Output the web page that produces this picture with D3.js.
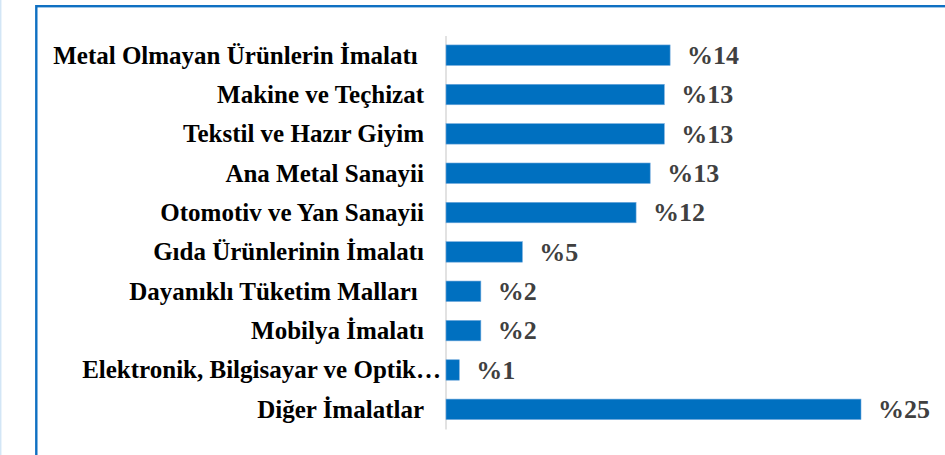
<html>
<head>
<meta charset="utf-8">
<script src="https://d3js.org/d3.v7.min.js"></script>
<style>
body { margin:0; background:#fff; }
text { white-space: pre; }
</style>
</head>
<body>
<svg width="945" height="455"></svg>
<script>
// categories top to bottom, trailing spaces kept as in the original
var categories = [
	"Metal Olmayan Ürünlerin İmalatı ",
	"Makine ve Teçhizat",
	"Tekstil ve Hazır Giyim",
	"Ana Metal Sanayii",
	"Otomotiv ve Yan Sanayii",
	"Gıda Ürünlerinin İmalatı",
	"Dayanıklı Tüketim Malları ",
	"Mobilya İmalatı",
	"Elektronik, Bilgisayar ve Optik…",
	"Diğer İmalatlar"
];
var values = [13.5, 13.15, 13.15, 12.3, 11.45, 4.6, 2.1, 2.1, 0.8, 25];
var valueLabels = ["%14", "%13", "%13", "%13", "%12", "%5", "%2", "%2", "%1", "%25"];

var data = categories.map((c, i) => ({name: c, value: values[i], label: valueLabels[i]}));

var width = 945, height = 455;
var axisX = 445.5;
var fontFam = "'Liberation Serif', 'Times New Roman', serif";

var svg = d3.select("svg");

// outer light strip and blue frame
svg.append("line")
	.attr("x1", 0.7).attr("x2", 0.7)
	.attr("y1", 0).attr("y2", height)
	.attr("stroke", "#d3e6f6")
	.attr("stroke-width", 1.5);
svg.append("rect")
	.attr("x", 36.3).attr("y", 6.2)
	.attr("width", 930).attr("height", 470)
	.attr("fill", "#fff")
	.attr("stroke", "#0f70c2")
	.attr("stroke-width", 2.4);

var x = d3.scaleLinear()
	.domain([0, 25])
	.range([446, 861]);

var y = d3.scaleBand()
	.domain(categories)
	.range([35.5, 429])
	.paddingInner(0.48)
	.paddingOuter(0.24);

// category axis
var yAxis = svg.append("g")
	.attr("transform", "translate(" + axisX + ",0)")
	.call(d3.axisLeft(y).tickSize(0).tickSizeOuter(0).tickPadding(21.5));
yAxis.select(".domain")
	.attr("stroke", "#d9d9d9")
	.attr("stroke-width", 1.5);
yAxis.selectAll("text")
	.attr("font-family", fontFam)
	.attr("font-weight", "bold")
	.attr("font-size", "25px")
	.attr("fill", "#000")
	.attr("dy", "0.34em")
	.attr("dx", d => d.endsWith("…") ? 17 : 0);

// bars
svg.selectAll(".bar")
	.data(data)
	.enter()
	.append("rect")
	.attr("class", "bar")
	.attr("x", x(0))
	.attr("y", d => y(d.name))
	.attr("width", d => x(d.value) - x(0))
	.attr("height", y.bandwidth())
	.attr("fill", "#0070c0")
	.attr("stroke", "#6fa8dc")
	.attr("stroke-width", 0.6);

// value labels
svg.selectAll(".val")
	.data(data)
	.enter()
	.append("text")
	.attr("class", "val")
	.attr("x", d => x(d.value) + 17)
	.attr("y", d => y(d.name) + y.bandwidth() / 2)
	.attr("dy", "0.34em")
	.attr("font-family", fontFam)
	.attr("font-weight", "bold")
	.attr("font-size", "26px")
	.attr("fill", "#404040")
	.text(d => d.label);
</script>
</body>
</html>
